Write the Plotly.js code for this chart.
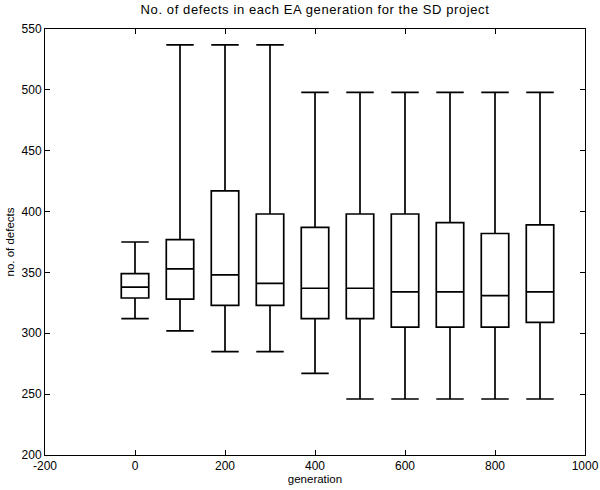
<!DOCTYPE html>
<html>
<head>
<meta charset="utf-8">
<script src="https://cdn.plot.ly/plotly-3.0.1.min.js"></script>
<style>html,body{margin:0;padding:0;background:#fff;}#chart{width:600px;height:490px;}.gtitle{letter-spacing:0.6px;}</style>
</head>
<body>
<div id="chart"></div>
<script>
const generations = [0, 100, 200, 300, 400, 500, 600, 700, 800, 900];
const lowerWhisker = [312, 302, 285, 285, 267, 246, 246, 246, 246, 246];
const q1Values     = [329, 328, 323, 323, 312, 312, 305, 305, 305, 309];
const medians      = [338, 353, 348, 341, 337, 337, 334, 334, 331, 334];
const q3Values     = [349, 377, 417, 398, 387, 398, 398, 391, 382, 389];
const upperWhisker = [375, 537, 537, 537, 498, 498, 498, 498, 498, 498];
const xTicks = [-200, 0, 200, 400, 600, 800, 1000];
const yTicks = [200, 250, 300, 350, 400, 450, 500, 550];

const trace = {
  type: 'box',
  x: generations,
  q1: q1Values,
  median: medians,
  q3: q3Values,
  lowerfence: lowerWhisker,
  upperfence: upperWhisker,
  width: 61,
  whiskerwidth: 1,
  fillcolor: '#ffffff',
  line: {color: '#000000', width: 1.7},
  boxpoints: false,
  hoverinfo: 'skip',
  showlegend: false
};

const fontFam = 'Liberation Sans, Arial, sans-serif';
const layout = {
  width: 600, height: 490,
  paper_bgcolor: '#fff', plot_bgcolor: '#fff',
  margin: {l: 45, r: 15, t: 29, b: 35},
  font: {family: fontFam, color: '#000', size: 12},
  title: {text: 'No. of defects in each EA generation for the SD project', font: {size: 13, family: fontFam, color: '#000'}, x: 0.525, xanchor: 'center', y: 0.989, yanchor: 'top'},
  xaxis: {
    range: [-200, 1000], tickvals: xTicks, ticktext: xTicks.map(String),
    ticks: 'inside', ticklen: 5, tickcolor: '#000', showgrid: false, zeroline: false,
    showline: true, linecolor: '#000', linewidth: 1, mirror: 'ticks',
    tickfont: {size: 12}, ticklabelstandoff: 0,
    title: {text: 'generation', font: {size: 11.5}, standoff: 2}
  },
  yaxis: {
    range: [200, 550], tickvals: yTicks, ticktext: yTicks.map(String),
    ticks: 'inside', ticklen: 5, tickcolor: '#000', showgrid: false, zeroline: false,
    showline: true, linecolor: '#000', linewidth: 1, mirror: 'ticks',
    tickfont: {size: 12}, ticklabelstandoff: 0,
    title: {text: 'no. of defects', font: {size: 11.5}, standoff: 4}
  }
};

Plotly.newPlot('chart', [trace], layout, {displayModeBar: false, staticPlot: true});
</script>
</body>
</html>
